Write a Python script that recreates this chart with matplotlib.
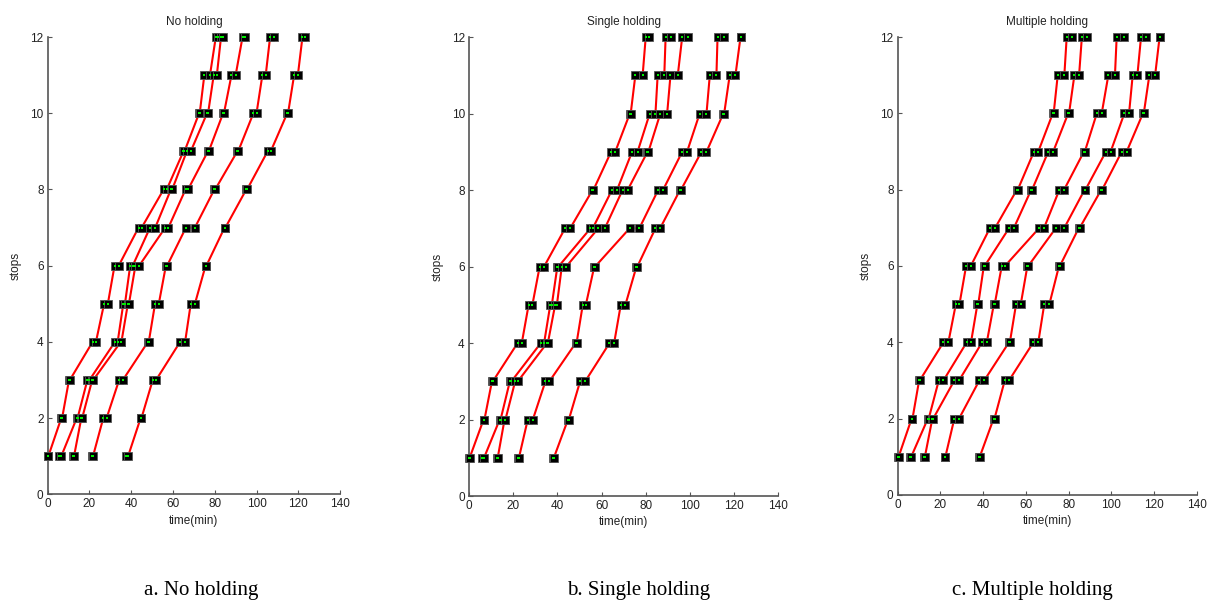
# Bus trajectory diagrams: no holding / single holding / multiple holding
import numpy as np
import matplotlib
matplotlib.use('Agg')
import matplotlib.pyplot as plt

plt.rcParams['font.family'] = 'Liberation Sans'

stops = np.arange(1, 13)

# ---- No holding (arrival / departure time at each stop, per bus) ----
no_arr = [
    [0, 6.5, 10.2, 21.5, 27, 32, 43.5, 55.5, 65, 72.5, 75, 80.5],
    [5.5, 13.9, 19, 32.2, 36.2, 39.5, 49, 59, 66.6, 76.3, 79.5, 83],
    [12, 16.1, 21.3, 35, 38.4, 42, 56.3, 66, 76.7, 84, 88, 93.3],
    [21.3, 26.6, 34.2, 48, 51.4, 56.6, 66.2, 79.8, 90.8, 98.5, 102.8, 106.5],
    [37.7, 44.5, 50.3, 63.4, 68.5, 75.6, 84.7, 95.1, 105.3, 114.7, 118, 122],
]
no_dep = [
    [0.3, 6.9, 10.6, 23.1, 28.8, 34, 45, 57, 65.5, 72.8, 77.7, 81.5],
    [6.5, 14.3, 20, 33.5, 37, 40.7, 51.5, 59.6, 68.5, 76.8, 81, 84],
    [12.6, 16.5, 21.8, 35.3, 38.9, 43.8, 57.8, 67.2, 77.1, 84.4, 90, 94.3],
    [21.7, 28.2, 36, 48.4, 53.2, 57.2, 70.5, 80.2, 91.2, 100, 104.4, 108.5],
    [38.5, 44.9, 51.9, 65.8, 70.5, 76, 85.1, 95.5, 106.8, 115.1, 119.8, 123],
]

# ---- Single holding ----
single_arr = [
    [0, 6.6, 10.4, 22, 27, 32, 43.5, 55.9, 64.3, 72.8, 75.3, 80],
    [5.8, 13.9, 18.5, 32.5, 36.8, 40, 55, 64.7, 73.8, 81.8, 85.4, 89],
    [12.6, 16.1, 20.9, 35.3, 39, 42, 58.5, 69.5, 80.8, 86.6, 91.2, 96.5],
    [22.2, 26.6, 34.6, 48.3, 51.5, 56.7, 72.7, 85.6, 96.5, 104.4, 109, 112.5],
    [38, 44.8, 50.3, 63.6, 68.7, 75.8, 84.4, 95.5, 105.2, 115.1, 118, 122.9],
]
single_dep = [
    [0.3, 7, 10.8, 23.9, 28.7, 34, 45.8, 56.3, 66.2, 73.2, 78.6, 81.5],
    [6.8, 14.3, 19.2, 34, 37.5, 40.5, 56, 67, 76.3, 84.4, 88.4, 91.5],
    [13, 16.5, 22.1, 35.7, 39.8, 44, 61.5, 71.8, 81.2, 89.7, 94.5, 99],
    [22.6, 28.9, 36.4, 48.7, 52.9, 57.1, 77.1, 87.8, 98.7, 107.5, 112, 115.5],
    [38.4, 45.2, 52.6, 65.7, 70.8, 76.2, 86.5, 95.9, 107.5, 115.5, 120.6, 123.3],
]

# ---- Multiple holding ----
multi_arr = [
    [0, 6.5, 10, 21.4, 27.2, 32, 43.2, 55.8, 63.8, 72.6, 74.9, 79.1],
    [5.9, 14.1, 19.2, 32.3, 37.3, 40.3, 52.2, 62.5, 70.5, 79.8, 82.7, 86.2],
    [12.3, 16.2, 26.5, 39.5, 45, 48.7, 66.3, 75.7, 87.2, 93.2, 98.6, 102.5],
    [21.9, 26.5, 38.2, 52.1, 55.4, 60.7, 74.1, 87.5, 97.5, 106.1, 110, 113.9],
    [38, 44.9, 50.1, 63.5, 68.6, 75.5, 84.8, 95.3, 104.9, 114.8, 117.8, 122.6],
]
multi_dep = [
    [0.4, 6.9, 10.3, 23.7, 28.9, 34.2, 45.6, 56.2, 65.8, 73, 78, 81.5],
    [6.3, 14.5, 21.4, 34.3, 37.7, 40.7, 54.4, 62.9, 72.8, 80.2, 84.9, 88.4],
    [12.7, 16.6, 28.7, 41.7, 45.4, 50.2, 68.5, 77.9, 87.6, 95.5, 101.7, 106],
    [22.3, 28.7, 40.5, 52.5, 57.6, 61.1, 78, 87.9, 99.7, 108.3, 112.2, 116.2],
    [38.4, 45.3, 52.1, 65.8, 71, 75.9, 85.2, 95.7, 107.2, 115.2, 120.5, 123],
]

titles = ['No holding', 'Single holding', 'Multiple holding']
captions = ['a. No holding', 'b. Single holding', 'c. Multiple holding']

fig = plt.figure(figsize=(12.14, 6.08), dpi=100)

# axes boxes in figure fraction (left, bottom, width, height)
boxes = [
    [0.0393, 0.187, 0.2408, 0.752],
    [0.3863, 0.184, 0.2548, 0.755],
    [0.7395, 0.186, 0.2463, 0.753],
]
caption_x = [0.166, 0.526, 0.850]

panels = [(no_arr, no_dep), (single_arr, single_dep), (multi_arr, multi_dep)]

for i, (arr, dep) in enumerate(panels):
    ax = fig.add_axes(boxes[i])
    for a, d in zip(arr, dep):
        t = np.column_stack([a, d]).ravel()
        s = np.repeat(stops, 2)
        ax.plot(t, s, color='red', lw=1.5, zorder=2, clip_on=False)
        ax.plot(t, s, ls='none', marker='s', ms=6, mfc='black',
                mec='#555555', mew=0.6, zorder=3, clip_on=False)
        ax.plot(t, s, ls='none', marker='s', ms=1.7, mfc='#00ee00',
                mec='#00ee00', mew=0, zorder=4, clip_on=False)

    ax.set_xlim(0, 140)
    ax.set_ylim(0, 12)
    ax.set_xticks(np.arange(0, 141, 20))
    ax.set_yticks(np.arange(0, 13, 2))
    ax.spines['top'].set_visible(False)
    ax.spines['right'].set_visible(False)
    for sp in ['left', 'bottom']:
        ax.spines[sp].set_color('#555555')
        ax.spines[sp].set_linewidth(1.2)
    ax.tick_params(direction='in', length=3, width=0.8, labelsize=8.5,
                   colors='#555555', labelcolor='#222222', pad=3)
    ax.set_title(titles[i], fontsize=8.5, pad=9, color='#222222')
    ax.set_xlabel('time(min)', fontsize=8.5, color='#222222', labelpad=3)
    ax.set_ylabel('stops', fontsize=8.5, color='#222222', labelpad=6)
    fig.text(caption_x[i], 0.028, captions[i], ha='center', va='center',
             fontsize=15, family='Liberation Serif')

fig.savefig('out.png', dpi=100)
